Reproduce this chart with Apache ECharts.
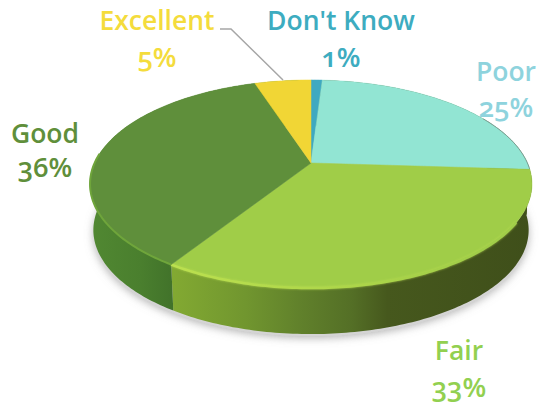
<!DOCTYPE html>
<html>
<head>
<meta charset="utf-8">
<style>
html,body{margin:0;padding:0;background:#fff}
#chart{width:540px;height:408px;font-variant-numeric:oldstyle-nums;font-feature-settings:"onum" 1}
</style>
<script src="https://cdn.jsdelivr.net/npm/echarts@6/dist/echarts.min.js"></script>
</head>
<body>
<div id="chart"></div>
<script>
// Survey ratings, clockwise from twelve o'clock
var categories = ["Don't Know", "Poor", "Fair", "Good", "Excellent"];
var percents = [1, 25, 33, 36, 5];

var faceColors = ['#3fa9c0', '#92e5d3', '#a0cd48', '#5f8f3b', '#f1d635'];
var labelColors = ['#3dacc0', '#8ed3dd', '#92d050', '#5f8f3b', '#f4dc3c'];
// [x, name line y, percentage line y]
var labelAnchors = [[341, 20, 56], [506, 71, 106], [459, 350, 386], [45, 133, 166], [157, 20, 56]];

// Tilted disc: a circle seen in perspective, with a thick extruded edge
var CX = 311, APEX_Y = 163, HALF_W = 216.4, HALF_D = 99.8, PERSP = 0.202;
var DEPTH = 46, FOOT_SCALE = 0.985;
var total = percents.reduce(function (a, b) { return a + b; }, 0);

function rim(theta) {
  var x = Math.sin(theta), z = Math.cos(theta), w = 1 + PERSP * z;
  return [CX + HALF_W * x / w, APEX_Y - HALF_D * z / w];
}
function foot(p) {
  return [CX + (p[0] - CX) * FOOT_SCALE, p[1] + DEPTH];
}
function sliceAngles(i) {
  var before = 0;
  for (var k = 0; k < i; k++) before += percents[k];
  return [before / total * 2 * Math.PI, (before + percents[i]) / total * 2 * Math.PI];
}
function arc(a0, a1) {
  var pts = [], n = Math.max(4, Math.ceil((a1 - a0) * 60));
  for (var i = 0; i <= n; i++) pts.push(rim(a0 + (a1 - a0) * i / n));
  return pts;
}
function hGrad(x0, x1, stops) {
  return new echarts.graphic.LinearGradient(x0, 0, x1, 0, stops, true);
}

var wallFills = [
  '#4a5a20',
  '#3c4a18',
  hGrad(174, 530, [
    { offset: 0, color: '#82a932' },
    { offset: 0.2, color: '#71962f' },
    { offset: 0.36, color: '#60802b' },
    { offset: 0.5, color: '#546f26' },
    { offset: 0.6, color: '#46581d' },
    { offset: 1, color: '#3f4f1a' }
  ]),
  hGrad(90, 174, [
    { offset: 0, color: '#518832' },
    { offset: 0.6, color: '#4a7f2e' },
    { offset: 1, color: '#41722a' }
  ]),
  '#4f8530'
];

function renderShadow() {
  var outline = arc(0, 2 * Math.PI).map(function (p) {
    var f = foot(p);
    return [f[0], f[1] + 2];
  });
  return {
    type: 'polygon',
    shape: { points: outline },
    style: {
      fill: '#d4d4d4',
      shadowColor: 'rgba(130,130,130,0.6)',
      shadowBlur: 8,
      shadowOffsetX: 0,
      shadowOffsetY: 2
    }
  };
}

function renderWall(params) {
  var a = sliceAngles(params.dataIndex);
  var top = arc(a[0], a[1]);
  var bottom = top.map(foot).reverse();
  return {
    type: 'polygon',
    shape: { points: top.concat(bottom) },
    style: { fill: wallFills[params.dataIndex] }
  };
}

function renderFace(params) {
  var i = params.dataIndex;
  var a = sliceAngles(i);
  var edge = arc(a[0], a[1]);
  var children = [{
    type: 'polygon',
    shape: { points: [[CX, APEX_Y]].concat(edge) },
    style: { fill: faceColors[i], stroke: faceColors[i], lineWidth: 0.5 }
  }];
  // Bevel catching the light along the front of the rim
  if (categories[i] === 'Fair') {
    children.push({
      type: 'polyline',
      shape: { points: arc(a[0] + 0.5, a[1]) },
      style: {
        fill: 'none', lineWidth: 2.5,
        shadowBlur: 2, shadowColor: 'rgba(185,220,80,0.8)',
        stroke: hGrad(174, 480, [
          { offset: 0, color: '#bbe04f' },
          { offset: 0.6, color: '#acd54a' },
          { offset: 1, color: '#a0cd48' }
        ])
      }
    });
  }
  if (categories[i] === 'Good') {
    children.push({
      type: 'polyline',
      shape: { points: arc(a[0], a[0] + 1.1) },
      style: { fill: 'none', lineWidth: 2, stroke: '#6fa53b' }
    });
  }
  if (categories[i] === 'Poor') {
    children.push({
      type: 'polyline',
      shape: { points: arc(a[0] + 1.0, a[1]) },
      style: { fill: 'none', lineWidth: 1, stroke: '#7d9c90' }
    });
  }
  return { type: 'group', children: children };
}

function renderLabel(params) {
  var i = params.dataIndex, pos = labelAnchors[i];
  var common = { fontFamily: '"Open Sans", sans-serif', fontWeight: 600,
                 align: 'center', verticalAlign: 'middle', fill: labelColors[i] };
  return {
    type: 'group',
    children: [
      { type: 'text', style: Object.assign({ text: categories[i], x: pos[0], y: pos[1], fontSize: 26.5 }, common) },
      { type: 'text', style: Object.assign({ text: percents[i] + '%', x: pos[0], y: pos[2], fontSize: 27.5 }, common) }
    ]
  };
}

function renderLeader() {
  return {
    type: 'polyline',
    shape: { points: [[220, 29], [231, 29], [283, 80]] },
    style: { fill: 'none', stroke: '#a6a6a6', lineWidth: 1.5 }
  };
}

var chart = echarts.init(document.getElementById('chart'), null, { renderer: 'svg' });
chart.setOption({
  animation: false,
  backgroundColor: '#ffffff',
  series: [
    { type: 'custom', coordinateSystem: 'none', silent: true, data: [0], renderItem: renderShadow, z: 1 },
    { type: 'custom', coordinateSystem: 'none', silent: true, data: percents, renderItem: renderWall, z: 2 },
    { type: 'custom', coordinateSystem: 'none', silent: true, data: percents, renderItem: renderFace, z: 3 },
    { type: 'custom', coordinateSystem: 'none', silent: true, data: [0], renderItem: renderLeader, z: 4 },
    { type: 'custom', coordinateSystem: 'none', silent: true, data: percents, renderItem: renderLabel, z: 5 }
  ]
});
</script>
</body>
</html>
